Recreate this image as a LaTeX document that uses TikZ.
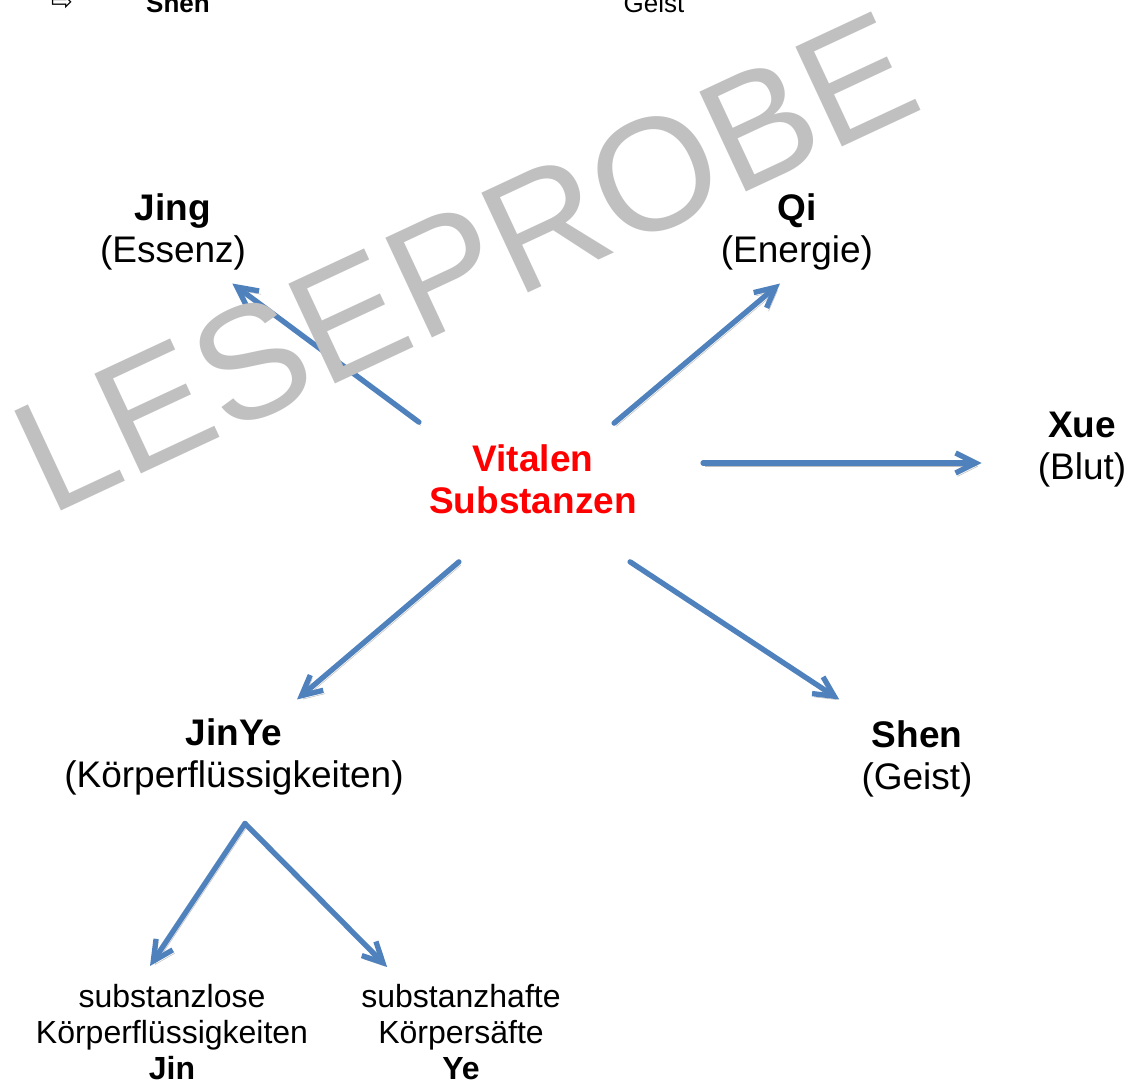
\documentclass[tikz,border=0pt]{standalone}
\usepackage{fontspec}
\setmainfont{Liberation Sans}
\newfontfamily\symfont{DejaVu Sans}
\usetikzlibrary{arrows.meta,positioning,calc}
\definecolor{Steel}{HTML}{4F81BD}
\definecolor{Shade}{HTML}{BFBFBF}
\definecolor{Signal}{HTML}{FF0000}
\definecolor{Stamp}{HTML}{C0C0C0}
\tikzset{
  term/.style={align=center,inner sep=0pt,font=\fontsize{27.75}{31.5}\selectfont},
  subterm/.style={align=center,inner sep=0pt,font=\fontsize{24}{27}\selectfont},
  core/.style={term,text=Signal,font=\fontsize{27.75}{31.5}\selectfont\bfseries},
  header/.style={anchor=base,inner sep=0pt,font=\fontsize{19.5}{22}\selectfont},
  stamp/.style={anchor=base west,inner sep=0pt,rotate=25,text=Stamp,font=\fontsize{120}{120}\selectfont},
  flow/.style={-{Straight Barb[length=15pt,width=15pt]},draw=Steel,line width=4pt,line cap=round,
    preaction={draw=Shade,transform canvas={shift={(1.5pt,-2.5pt)}}}}
}
\begin{document}
\begin{tikzpicture}[x=0.75pt,y=-0.75pt]
  \useasboundingbox (0,0) rectangle (1136,1081);
  \node[header,font=\fontsize{19.5}{22}\selectfont\symfont] (mark) at (62,11) {⇨};
  \node[header,font=\fontsize{19.5}{22}\selectfont\bfseries] (shenhead) at (178,13) {Shen};
  \node[header] (geisthead) at (654,13) {Geist};
  \node[core] (vital) at (533,479) {Vitalen\\Substanzen};
  \node[term] (jing) at (173,232) {\textbf{Jing}\\(Essenz)};
  \node[term] (qi) at (797,232) {\textbf{Qi}\\(Energie)};
  \node[term] (xue) at (1082,450) {\textbf{Xue}\\(Blut)};
  \node[term] (jinye) at (234,757) {\textbf{JinYe}\\(Körperflüssigkeiten)};
  \node[term] (shen) at (917,759) {\textbf{Shen}\\(Geist)};
  \node[subterm] (jin) at (172,1032) {substanzlose\\Körperflüssigkeiten\\\textbf{Jin}};
  \node[subterm] (ye) at (461,1032) {substanzhafte\\Körpersäfte\\\textbf{Ye}};
  \draw[flow] ([shift={(-10,-22)}]vital.north west) -- ([shift={(-14,13)}]jing.south east);
  \draw[flow] ([shift={(-23,-21)}]vital.north east) -- ([shift={(-17,13)}]qi.south);
  \draw[flow] ([shift={(66,-16)}]vital.east) -- ([shift={(-56,13)}]xue.west);
  \draw[flow] ([shift={(30,48)}]vital.south west) -- ([shift={(63,-19)}]jinye.north);
  \draw[flow] ([shift={(-7,48)}]vital.south east) -- ([shift={(-22,-21)}]shen.north west);
  \draw[flow] ([shift={(11,28)}]jinye.south) -- ([shift={(-22,-18)}]jin.north);
  \draw[flow] ([shift={(11,28)}]jinye.south) -- ([shift={(26,-17)}]ye.north west);
  \node[stamp] (stamp) at (49,517) {LESEPROBE};
\end{tikzpicture}
\end{document}
